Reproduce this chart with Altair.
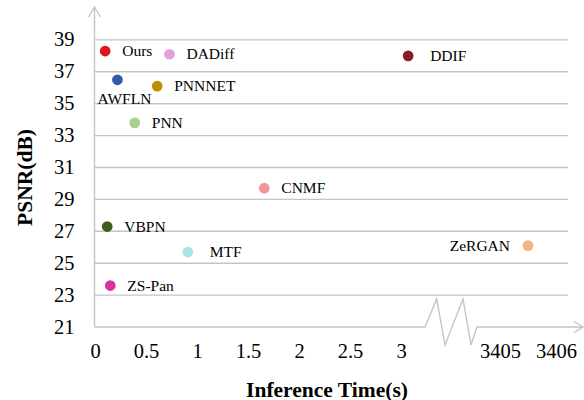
import altair as alt
import pandas as pd

# Methods: inference time (s) vs. PSNR (dB)
methods = ["Ours", "DADiff", "AWFLN", "PNNNET", "PNN", "CNMF",
           "DDIF", "VBPN", "MTF", "ZS-Pan", "ZeRGAN"]
times = [0.10, 0.73, 0.22, 0.61, 0.39, 1.66, 3.07, 0.12, 0.91, 0.15, 3405.5]
psnr = [38.3, 38.1, 36.5, 36.1, 33.8, 29.7, 38.0, 27.3, 25.7, 23.6, 26.1]
colors = ["#e0121b", "#e59ee0", "#2f5ba8", "#bf8f00", "#a9d18e", "#f0959a",
          "#8b1a2b", "#3d5e20", "#a8e6e2", "#d6339c", "#f4b183"]

y_ticks = [21, 23, 25, 27, 29, 31, 33, 35, 37, 39]
x_ticks_low = [0, 0.5, 1, 1.5, 2, 2.5, 3]
x_ticks_high = [3405, 3406]

FONT = "Liberation Serif"
AXIS_GREY = "#c4c4c4"

df = pd.DataFrame({"method": methods, "time": times, "psnr": psnr})
grid_df = pd.DataFrame({"psnr": y_ticks[1:]})

# Axis lines, arrow heads and the zig-zag break, in plot-area pixels
decor = pd.DataFrame([
    # y axis line and arrow
    ("yaxis", 0, -0.5, 319), ("yaxis", 1, -0.5, -1),
    ("yarrow", 0, -6.5, 9), ("yarrow", 1, -0.5, -1), ("yarrow", 2, 5.5, 9),
    # x axis line with break
    ("xaxis", 0, -0.5, 319), ("xaxis", 1, 330, 319), ("xaxis", 2, 341.7, 291),
    ("xaxis", 3, 350, 337), ("xaxis", 4, 368, 291), ("xaxis", 5, 376, 337),
    ("xaxis", 6, 382, 319), ("xaxis", 7, 488, 319),
    # x arrow
    ("xarrow", 0, 479, 313.5), ("xarrow", 1, 488, 319), ("xarrow", 2, 479, 324.5),
], columns=["seg", "i", "px", "py"])

y_scale = alt.Scale(domain=[21, 41], nice=False, zero=False)
color_scale = alt.Scale(domain=methods, range=colors)

y_axis = alt.Axis(
    orient="left", values=y_ticks, domain=False, ticks=False, grid=False,
    labelFont=FONT, labelFontSize=20.5, labelColor="#000000", labelPadding=21,
    labelFlush=False,
    title="PSNR(dB)", titleFont=FONT, titleFontSize=21.5, titleFontWeight="bold",
    titleColor="#000000", titleAngle=270, titleX=-64, titleY=169,
    titleAlign="center", titleBaseline="alphabetic",
)

# Left segment of the broken time axis
x_low = alt.X(
    "time:Q",
    scale=alt.Scale(domain=[0, 3.25], range=[0, 331.5], nice=False, zero=False),
    axis=alt.Axis(
        orient="bottom", values=x_ticks_low, format="~g", domain=False,
        ticks=False, grid=False, labelFlush=False, labelFont=FONT,
        labelFontSize=20.5, labelColor="#000000", labelPadding=14,
        title="Inference Time(s)", titleFont=FONT, titleFontSize=21.5,
        titleFontWeight="bold", titleColor="#000000", titleX=231.5, titleY=69,
        titleAlign="center", titleBaseline="alphabetic",
    ),
)

# Right segment of the broken time axis
x_high = alt.X(
    "time:Q",
    scale=alt.Scale(domain=[3404, 3406], range=[349, 461], nice=False, zero=False),
    axis=alt.Axis(
        orient="bottom", values=x_ticks_high, format="d", domain=False,
        ticks=False, grid=False, labelFlush=False, labelFont=FONT,
        labelFontSize=20.5, labelColor="#000000", labelPadding=14, title=None,
    ),
)

# Every layer shares the same y definition so the axis merges cleanly
y_enc = alt.Y("psnr:Q", scale=y_scale, axis=y_axis)
col = alt.Color("method:N", scale=color_scale, legend=None)

gridlines = alt.Chart(grid_df).mark_rule(color=AXIS_GREY, strokeWidth=1.4).encode(
    y=y_enc,
    x=alt.value(0),
    x2=alt.value(473),
)

decor_lines = alt.Chart(decor).mark_line(color=AXIS_GREY, strokeWidth=1.4).encode(
    x=alt.X("px:Q", scale=None, axis=None),
    y=alt.Y("py:Q", scale=None, axis=None),
    detail="seg:N",
    order="i:Q",
)

base_low = alt.Chart(df).transform_filter("datum.time < 100")
base_high = alt.Chart(df).transform_filter("datum.time > 100")

text_style = dict(font=FONT, fontSize=15.5, color="#000000", baseline="middle")

low_points = base_low.mark_circle(size=115, opacity=1).encode(x=x_low, y=y_enc, color=col)
near_labels = base_low.transform_filter(
    "indexof(['AWFLN', 'DDIF', 'MTF'], datum.method) < 0"
).mark_text(align="left", dx=17, **text_style).encode(x=x_low, y=y_enc, text="method:N")
far_labels = base_low.transform_filter(
    "indexof(['DDIF', 'MTF'], datum.method) >= 0"
).mark_text(align="left", dx=22, **text_style).encode(x=x_low, y=y_enc, text="method:N")
awfln_label = base_low.transform_filter("datum.method == 'AWFLN'").mark_text(
    align="center", dx=7, dy=19.5, **text_style
).encode(x=x_low, y=y_enc, text="method:N")

high_points = base_high.mark_circle(size=115, opacity=1).encode(x=x_high, y=y_enc, color=col)
high_labels = base_high.mark_text(align="right", dx=-18, **text_style).encode(
    x=x_high, y=y_enc, text="method:N"
)

low_group = alt.layer(low_points, near_labels, far_labels, awfln_label)
high_group = alt.layer(high_points, high_labels)

chart = alt.layer(gridlines, decor_lines, low_group, high_group).resolve_scale(
    x="independent"
).properties(
    width=487,
    height=319,
    padding={"left": 95, "top": 8, "right": 2, "bottom": 73},
    autosize=alt.AutoSizeParams(type="none"),
    background="#ffffff",
).configure_view(stroke=None)

chart.save("out.html", embed_options={"renderer": "svg", "actions": False})
